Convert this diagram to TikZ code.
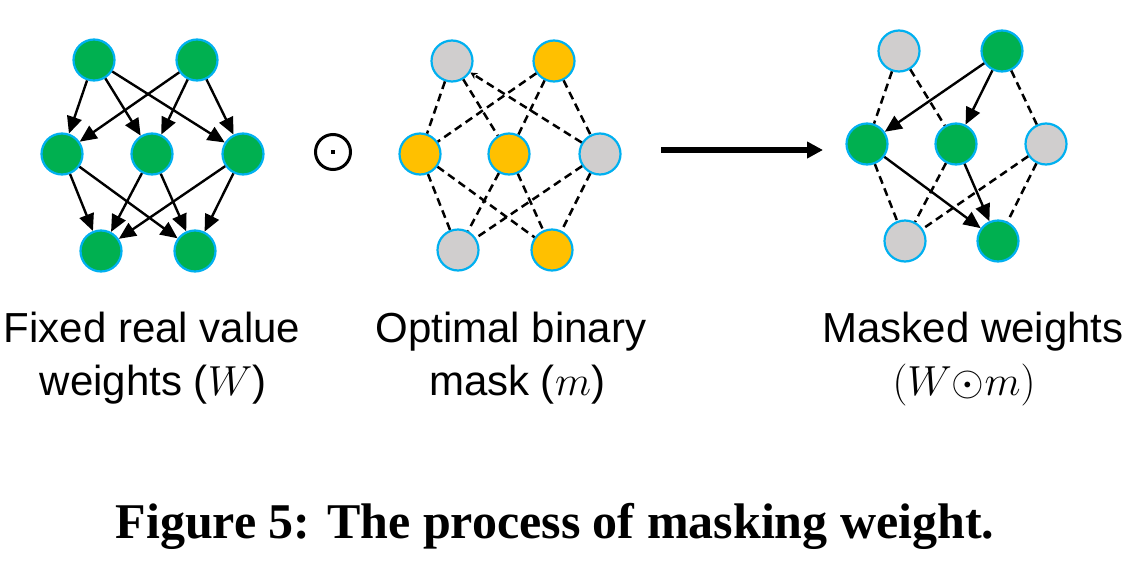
\RequirePackage{fix-cm}
\documentclass[tikz,border=0pt]{standalone}
\usepackage{fontspec}
\setmainfont{Liberation Sans}
\newfontfamily\capfont{Liberation Serif}
\usetikzlibrary{arrows.meta}
\definecolor{ngreen}{HTML}{00B050}
\definecolor{nblue}{HTML}{00B0F0}
\definecolor{ngray}{HTML}{D0CECE}
\definecolor{nyellow}{HTML}{FFC000}
\begin{document}
\begin{tikzpicture}[x=1pt,y=-1pt,
  neuron/.style={circle, draw=nblue, line width=2.2pt, minimum size=41pt, inner sep=0pt},
  gnode/.style={neuron, fill=ngreen},
  ynode/.style={neuron, fill=nyellow},
  xnode/.style={neuron, fill=ngray},
  wire/.style={line width=2.4pt, -{Triangle[length=17pt,width=15pt]}},
  dwire/.style={line width=2.5pt, dash pattern=on 8pt off 5pt},
  lbl/.style={anchor=base, font=\fontsize{42}{50}\selectfont, inner sep=0pt},
]
\useasboundingbox (0,0) rectangle (1129,573);
% left network
\node[gnode] (LTL) at (94,60) {};
\node[gnode] (LTR) at (197,60) {};
\node[gnode] (LML) at (62,154) {};
\node[gnode] (LMM) at (152,154) {};
\node[gnode] (LMR) at (243,154) {};
\node[gnode] (LBL) at (101,251) {};
\node[gnode] (LBR) at (195,251) {};
\foreach \a in {TL,TR} \foreach \b in {ML,MM,MR} \draw[wire] (L\a) -- (L\b);
\foreach \a in {ML,MM,MR} \foreach \b in {BL,BR} \draw[wire] (L\a) -- (L\b);
% odot
\node[circle, draw, line width=3pt, minimum size=35pt, inner sep=0pt] (odot) at (333,152) {};
\node[fill, minimum size=4pt, inner sep=0pt] (odotc) at (odot.center) {};
% middle network
\node[xnode] (MTL) at (452,61) {};
\node[ynode] (MTR) at (554,61) {};
\node[ynode] (MML) at (420,154) {};
\node[ynode] (MMM) at (509,154) {};
\node[xnode] (MMR) at (600,154) {};
\node[xnode] (MBL) at (458,250) {};
\node[ynode] (MBR) at (552,250) {};
\draw[dwire] (MTL) -- (MML);
\draw[dwire] (MTL) -- (MMM);
\draw[dwire, -{Stealth[length=7pt,width=7pt]}] (MMR) -- (MTL);
\foreach \b in {ML,MM,MR} \draw[dwire] (MTR) -- (M\b);
\foreach \a in {ML,MM,MR} \foreach \b in {BL,BR} \draw[dwire] (M\a) -- (M\b);
% big arrow
\coordinate (arrS) at (661,150);
\coordinate (arrE) at (823,150);
\draw[line width=5.5pt, -{Triangle[length=16pt,width=16pt]}] (arrS) -- (arrE);
% right network
\node[xnode] (RTL) at (899,51) {};
\node[gnode] (RTR) at (1002,51) {};
\node[gnode] (RML) at (867,144) {};
\node[gnode] (RMM) at (956,144) {};
\node[xnode] (RMR) at (1046,144) {};
\node[xnode] (RBL) at (905,241) {};
\node[gnode] (RBR) at (998,241) {};
\draw[dwire] (RTL) -- (RML);
\draw[dwire] (RTL) -- (RMM);
\draw[dwire] (RTR) -- (RMR);
\draw[dwire] (RML) -- (RBL);
\draw[dwire] (RMM) -- (RBL);
\draw[dwire] (RMR) -- (RBL);
\draw[dwire] (RMR) -- (RBR);
\draw[wire] (RTR) -- (RML);
\draw[wire] (RTR) -- (RMM);
\draw[wire] (RML) -- (RBR);
\draw[wire] (RMM) -- (RBR);
% labels
\node[lbl] (lWa) at (152,342) {Fixed real value};
\node[lbl] (lWb) at (153,395) {weights ($W$)};
\node[lbl] (lMa) at (511,342) {Optimal binary};
\node[lbl] (lMb) at (517,395) {mask ($m$)};
\node[lbl] (lRa) at (973,342) {Masked weights};
\node[lbl] (lRb) at (964,395) {$(W{\odot}m)$};
% caption
\node[anchor=base, inner sep=0pt, font=\capfont\bfseries\fontsize{50}{58}\selectfont] (cap) at (555,538) {Figure 5: The process of masking weight.};
\end{tikzpicture}
\end{document}
